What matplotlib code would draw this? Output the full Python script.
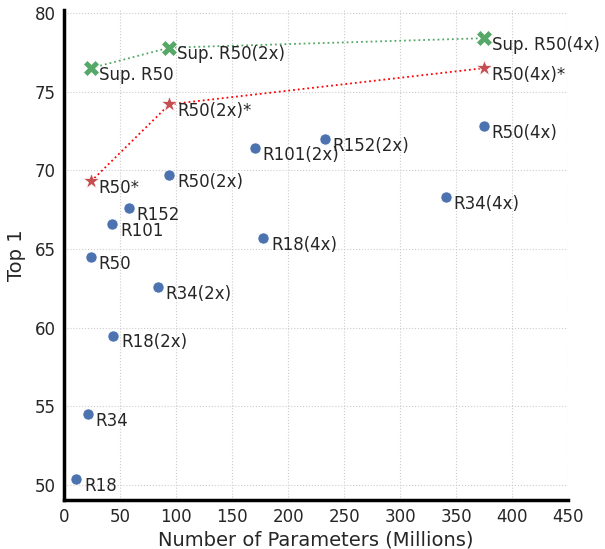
import matplotlib.pyplot as plt

# self-supervised (blue dots)
names = ['R18', 'R34', 'R50', 'R101', 'R152',
         'R18(2x)', 'R34(2x)', 'R50(2x)', 'R101(2x)', 'R152(2x)',
         'R18(4x)', 'R34(4x)', 'R50(4x)']
params = [11, 21, 24, 43, 58, 44, 84, 94, 170, 233, 178, 341, 375]
top1 = [50.4, 54.5, 64.5, 66.6, 67.6, 59.5, 62.6, 69.7, 71.4, 72.0, 65.7, 68.3, 72.8]

# starred variants (red)
star_names = ['R50*', 'R50(2x)*', 'R50(4x)*']
star_params = [24, 94, 375]
star_top1 = [69.3, 74.2, 76.5]

# supervised (green)
sup_names = ['Sup. R50', 'Sup. R50(2x)', 'Sup. R50(4x)']
sup_params = [24, 94, 375]
sup_top1 = [76.5, 77.8, 78.4]

txt = '#262626'
plt.rcParams['font.family'] = 'DejaVu Sans'

fig = plt.figure(figsize=(6.05, 5.49), dpi=100)
ax = fig.add_axes([0.106, 0.089, 0.833, 0.893])

ax.plot(sup_params, sup_top1, ':', color='#55a868', lw=1.3, zorder=2)
ax.plot(star_params, star_top1, ':', color='red', lw=1.3, zorder=2)

ax.plot(params, top1, 'o', color='#4c72b0', ms=8, mec='white', mew=0.5, ls='none', zorder=3)
ax.plot(star_params, star_top1, '*', color='#c44e52', ms=12, mec='white', mew=0.5, ls='none', zorder=3)
ax.plot(sup_params, sup_top1, 'X', color='#55a868', ms=11, mec='white', mew=0.5, ls='none', zorder=3)

for n, x, y in zip(names + star_names + sup_names,
                   params + star_params + sup_params,
                   top1 + star_top1 + sup_top1):
    ax.annotate(n, (x, y), xytext=(5.5, -8.5), textcoords='offset points',
                fontsize=12, color=txt, va='baseline', ha='left')

ax.set_xlim(0, 450)
ax.set_ylim(49.05, 80.2)
ax.set_xticks(range(0, 451, 50))
ax.set_yticks(range(50, 81, 5))
ax.grid(True, ls=':', color='#cccccc', lw=0.8)
ax.set_axisbelow(True)

for s in ['top', 'right']:
    ax.spines[s].set_visible(False)
for s in ['left', 'bottom']:
    ax.spines[s].set_linewidth(2.5)
    ax.spines[s].set_color('black')

ax.tick_params(length=0, labelsize=12, labelcolor=txt, pad=6)
ax.set_xlabel('Number of Parameters (Millions)', fontsize=14, color=txt, labelpad=3)
ax.set_ylabel('Top 1', fontsize=14, color=txt, labelpad=6)

fig.savefig('out.png', dpi=100)
